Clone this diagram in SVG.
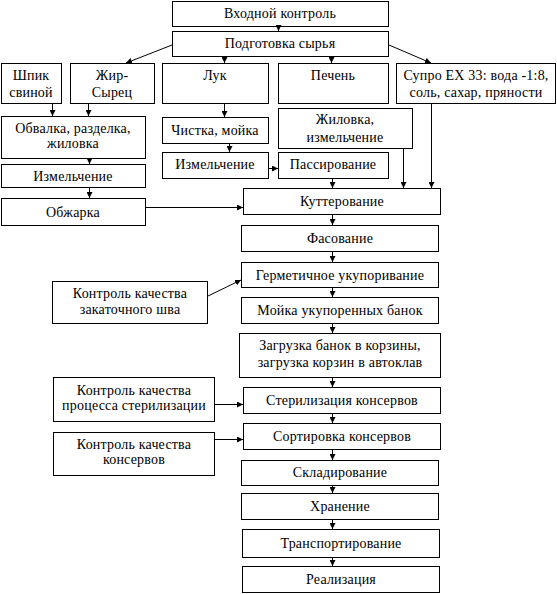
<svg xmlns="http://www.w3.org/2000/svg" width="557" height="594" viewBox="0 0 557 594">
<style>
.b{fill:#fff;stroke:#000;stroke-width:1}
text{font-family:"Liberation Serif","Times New Roman",serif;font-size:14px;letter-spacing:0.2px;fill:#000;text-anchor:middle}
.c line{stroke:#000;stroke-width:1;marker-end:url(#ah)}
</style>
<defs>
<marker id="ah" viewBox="0 0 6 6" refX="6" refY="3" markerWidth="6" markerHeight="6" markerUnits="userSpaceOnUse" orient="auto">
<path d="M0,0 L6,3 L0,6 z" fill="#000"/>
</marker>
</defs>
<rect width="557" height="594" fill="#fff"/>
<g font-family="Liberation Serif, Times New Roman, serif">
<g id="n1"><rect class="b" x="172.5" y="1.5" width="216" height="25"/><text x="280" y="18">Входной контроль</text></g>
<g id="n2"><rect class="b" x="172.5" y="31.5" width="216" height="25"/><text x="280" y="48">Подготовка сырья</text></g>
<g id="n3"><rect class="b" x="1.5" y="63.5" width="60" height="40"/><text x="31" y="80">Шпик</text><text x="31" y="97">свиной</text></g>
<g id="n4"><rect class="b" x="70.5" y="63.5" width="84" height="40"/><text x="112" y="80">Жир-</text><text x="112" y="97">Сырец</text></g>
<g id="n5"><rect class="b" x="162.5" y="63.5" width="106" height="40"/><text x="215" y="80">Лук</text></g>
<g id="n6"><rect class="b" x="278.5" y="63.5" width="110" height="40"/><text x="333" y="80">Печень</text></g>
<g id="n7"><rect class="b" x="396.5" y="63.5" width="159" height="40"/><text x="476" y="80">Супро EX 33: вода -1:8,</text><text x="476" y="97">соль, сахар, пряности</text></g>
<g id="n8"><rect class="b" x="1.5" y="116.5" width="144" height="42"/><text x="73" y="133">Обвалка, разделка,</text><text x="73" y="148">жиловка</text></g>
<g id="n9"><rect class="b" x="1.5" y="164.5" width="144" height="23"/><text x="73" y="181">Измельчение</text></g>
<g id="n10"><rect class="b" x="1.5" y="198.5" width="144" height="27"/><text x="73" y="217">Обжарка</text></g>
<g id="n11"><rect class="b" x="162.5" y="117.5" width="106" height="26"/><text x="215" y="135">Чистка, мойка</text></g>
<g id="n12"><rect class="b" x="162.5" y="152.5" width="106" height="26"/><text x="215" y="169">Измельчение</text></g>
<g id="n13"><rect class="b" x="278.5" y="108.5" width="134" height="40"/><text x="345" y="124">Жиловка,</text><text x="345" y="142">измельчение</text></g>
<g id="n14"><rect class="b" x="278.5" y="152.5" width="110" height="26"/><text x="333" y="169">Пассирование</text></g>
<g id="n15"><rect class="b" x="243.5" y="188.5" width="197" height="26"/><text x="342" y="206">Куттерование</text></g>
<g id="n16"><rect class="b" x="241.5" y="225.5" width="197" height="26"/><text x="340" y="243">Фасование</text></g>
<g id="n17"><rect class="b" x="241.5" y="262.5" width="197" height="25"/><text x="340" y="280">Герметичное укупоривание</text></g>
<g id="n18"><rect class="b" x="241.5" y="297.5" width="197" height="26"/><text x="340" y="315">Мойка укупоренных банок</text></g>
<g id="n19"><rect class="b" x="239.5" y="333.5" width="201" height="44"/><text x="340" y="350">Загрузка банок в корзины,</text><text x="340" y="367">загрузка корзин в автоклав</text></g>
<g id="n20"><rect class="b" x="243.5" y="387.5" width="197" height="26"/><text x="342" y="405">Стерилизация консервов</text></g>
<g id="n21"><rect class="b" x="243.5" y="423.5" width="197" height="26"/><text x="342" y="441">Сортировка консервов</text></g>
<g id="n22"><rect class="b" x="241.5" y="460.5" width="197" height="25"/><text x="340" y="477">Складирование</text></g>
<g id="n23"><rect class="b" x="241.5" y="493.5" width="197" height="26"/><text x="340" y="511">Хранение</text></g>
<g id="n24"><rect class="b" x="242.5" y="529.5" width="197" height="28"/><text x="341" y="548">Транспортирование</text></g>
<g id="n25"><rect class="b" x="242.5" y="566.5" width="197" height="26"/><text x="341" y="584">Реализация</text></g>
<g id="n26"><rect class="b" x="52.5" y="281.5" width="155" height="42"/><text x="130" y="298">Контроль качества</text><text x="130" y="314">закаточного шва</text></g>
<g id="n27"><rect class="b" x="53.5" y="377.5" width="161" height="44"/><text x="134" y="395">Контроль качества</text><text x="134" y="410">процесса стерилизации</text></g>
<g id="n28"><rect class="b" x="53.5" y="432.5" width="161" height="43"/><text x="134" y="449">Контроль качества</text><text x="134" y="464">консервов</text></g>
</g>
<g class="c" id="connectors">
<line x1="278.5" y1="26" x2="278.5" y2="31"/>
<line x1="172" y1="45" x2="126" y2="63"/>
<line x1="224.5" y1="57" x2="224.5" y2="63"/>
<line x1="331.5" y1="57" x2="331.5" y2="63"/>
<line x1="389" y1="45" x2="431" y2="63"/>
<line x1="52.5" y1="104" x2="52.5" y2="116"/>
<line x1="88.5" y1="104" x2="88.5" y2="116"/>
<line x1="89.5" y1="159" x2="89.5" y2="164"/>
<line x1="89.5" y1="188" x2="89.5" y2="198"/>
<line x1="224.5" y1="104" x2="224.5" y2="117"/>
<line x1="229.5" y1="144" x2="229.5" y2="152"/>
<line x1="269" y1="168.5" x2="278" y2="168.5"/>
<line x1="146" y1="207.5" x2="243" y2="207.5"/>
<line x1="332.5" y1="179" x2="332.5" y2="188"/>
<line x1="403.5" y1="149" x2="403.5" y2="188"/>
<line x1="431.5" y1="104" x2="431.5" y2="188"/>
<line x1="332.5" y1="215" x2="332.5" y2="225"/>
<line x1="332.5" y1="252" x2="332.5" y2="262"/>
<line x1="332.5" y1="288" x2="332.5" y2="297"/>
<line x1="332.5" y1="324" x2="332.5" y2="333"/>
<line x1="332.5" y1="378" x2="332.5" y2="387"/>
<line x1="332.5" y1="414" x2="332.5" y2="423"/>
<line x1="332.5" y1="450" x2="332.5" y2="460"/>
<line x1="332.5" y1="486" x2="332.5" y2="493"/>
<line x1="332.5" y1="520" x2="332.5" y2="529"/>
<line x1="332.5" y1="558" x2="332.5" y2="566"/>
<line x1="208" y1="296" x2="241" y2="280"/>
<line x1="215" y1="404.5" x2="243" y2="404.5"/>
<line x1="215" y1="439.5" x2="243" y2="439.5"/>
</g>
</svg>
